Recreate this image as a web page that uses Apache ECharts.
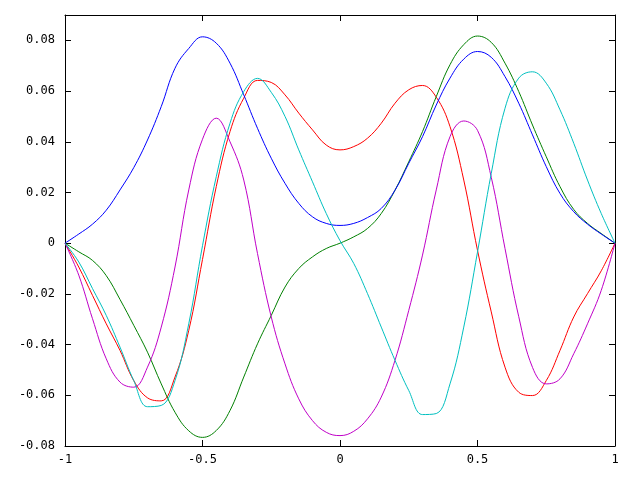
<!DOCTYPE html>
<html>
<head>
<meta charset="utf-8">
<script src="https://cdn.jsdelivr.net/npm/echarts@6/dist/echarts.min.js"></script>
<style>html,body{margin:0;padding:0;background:#fff}#c{width:640px;height:480px}</style>
</head>
<body>
<div id="c"></div>
<script>
const xs = [-1,-0.95,-0.9,-0.85,-0.8,-0.75,-0.7,-0.65,-0.6,-0.55,-0.5,-0.45,-0.4,-0.35,-0.3,-0.25,-0.2,-0.15,-0.1,-0.05,0,0.05,0.1,0.15,0.2,0.25,0.3,0.35,0.4,0.45,0.5,0.55,0.6,0.65,0.7,0.75,0.8,0.85,0.9,0.95,1];
const redVals = [0,-0.0094,-0.0206,-0.0318,-0.0423,-0.0542,-0.0610,-0.0622,-0.0528,-0.0344,-0.0064,0.0223,0.044,0.0572,0.0642,0.0634,0.0585,0.0513,0.0447,0.0387,0.0368,0.0381,0.0414,0.0473,0.0552,0.0605,0.0622,0.0576,0.046,0.0249,-0.0028,-0.0271,-0.0489,-0.0588,-0.0601,-0.0542,-0.0423,-0.0291,-0.0199,-0.0109,0];
const greenVals = [0,-0.0034,-0.0068,-0.0128,-0.0222,-0.0324,-0.043,-0.0555,-0.0667,-0.074,-0.0766,-0.0739,-0.066,-0.0528,-0.0397,-0.0285,-0.0173,-0.010,-0.0054,-0.0021,0,0.0025,0.0058,0.0117,0.0209,0.0321,0.044,0.0578,0.0704,0.0783,0.0817,0.0792,0.071,0.0598,0.0466,0.0341,0.0223,0.0133,0.0078,0.0038,0];
const blueVals = [0,0.0036,0.0075,0.013,0.021,0.0298,0.0407,0.0539,0.069,0.0768,0.0814,0.0789,0.071,0.0585,0.0453,0.0335,0.0236,0.0157,0.0104,0.0078,0.0070,0.0078,0.0101,0.0137,0.0209,0.0315,0.042,0.0545,0.0651,0.0726,0.0756,0.0733,0.0657,0.0552,0.0427,0.0302,0.0196,0.0124,0.0075,0.0036,0];
const magentaVals = [0,-0.0126,-0.0298,-0.0456,-0.0548,-0.0568,-0.0489,-0.0331,-0.0094,0.021,0.041,0.0493,0.040,0.0249,-0.0041,-0.0291,-0.0476,-0.0614,-0.070,-0.0746,-0.0759,-0.0742,-0.0693,-0.0607,-0.0462,-0.0265,-0.0047,0.021,0.042,0.0482,0.0445,0.026,-0.0021,-0.029,-0.049,-0.0555,-0.0535,-0.0436,-0.0318,-0.0186,0];
const cyanVals = [0,-0.0074,-0.0179,-0.0285,-0.041,-0.0542,-0.0645,-0.0640,-0.0542,-0.0318,-0.001,0.0262,0.0473,0.0598,0.065,0.0595,0.05,0.0368,0.0242,0.0117,0.001,-0.008,-0.0199,-0.0331,-0.0462,-0.0581,-0.0676,-0.0672,-0.0555,-0.0331,-0.0035,0.0275,0.0532,0.0651,0.0676,0.0631,0.0526,0.0394,0.0249,0.0117,0];
const xTicks = [-1,-0.5,0,0.5,1];
const yTicks = [-0.08,-0.06,-0.04,-0.02,0,0.02,0.04,0.06,0.08];

const pair = v => xs.map((x,i)=>[x,v[i]]);
const font = {color:'#000', fontFamily:'DejaVu Sans Mono', fontSize:12};
const axisLine = {show:true, onZero:false, lineStyle:{color:'#000', width:1}};
const tick = {show:true, inside:true, length:6, lineStyle:{color:'#000'}};

const chart = echarts.init(document.getElementById('c'), null, {renderer:'canvas'});
const mk = (name, data, color) => ({
  name, type:'line', data: pair(data), showSymbol:false, smooth:0.4,
  lineStyle:{color, width:1}, itemStyle:{color}, xAxisIndex:0, yAxisIndex:0
});
chart.setOption({
  animation:false,
  backgroundColor:'#fff',
  grid:{left:65, right:25, top:15, bottom:34, containLabel:false},
  xAxis:[
    {type:'value', min:-1, max:1, interval:0.5, position:'bottom', axisLine, axisTick:tick,
     splitLine:{show:false}, axisLabel:{...font, margin:8}},
    {type:'value', min:-1, max:1, interval:0.5, position:'top', axisLine, axisTick:tick,
     splitLine:{show:false}, axisLabel:{show:false}}
  ],
  yAxis:[
    {type:'value', min:-0.08, max:0.09, interval:0.02, position:'left', axisLine, axisTick:tick,
     splitLine:{show:false}, axisLabel:{...font, margin:10, showMaxLabel:false,
       formatter: v => (yTicks.some(t=>Math.abs(t-v)<1e-9) ? String(+v.toFixed(2)) : '')}},
    {type:'value', min:-0.08, max:0.09, interval:0.02, position:'right', axisLine, axisTick:tick,
     splitLine:{show:false}, axisLabel:{show:false}}
  ],
  series:[
    mk('1', redVals, '#ff0000'),
    mk('2', greenVals, '#008000'),
    mk('3', blueVals, '#0000ff'),
    mk('4', magentaVals, '#c000c8'),
    mk('5', cyanVals, '#00c0c0')
  ]
});
</script>
</body>
</html>
